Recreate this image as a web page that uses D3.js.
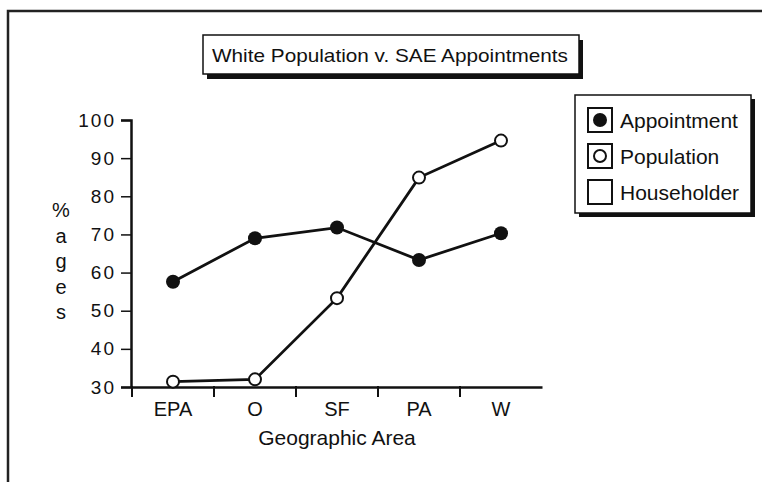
<!DOCTYPE html>
<html>
<head>
<meta charset="utf-8">
<script src="https://cdn.jsdelivr.net/npm/d3@7"></script>
<style>
  body { margin: 0; background: #fff; }
  svg { display: block; font-family: "Liberation Sans", Arial, sans-serif; }
</style>
</head>
<body>
<svg id="canvas" width="762" height="482"></svg>
<script>
// data
let areas = ["EPA", "O", "SF", "PA", "W"]
let appointment = [57.6, 69, 71.8, 63.3, 70.3]
let population = [31.4, 32, 53.3, 84.9, 94.6]
let yTicks = [30, 40, 50, 60, 70, 80, 90, 100]
let legendNames = ["Appointment", "Population", "Householder"]
let yLabelLetters = ["%", "a", "g", "e", "s"]

let canvas = d3.select("#canvas")

let x = d3.scaleBand().domain(areas).range([132, 542])
let y = d3.scaleLinear().domain([30, 100]).range([387, 120])
let cx = (d) => x(d) + x.bandwidth() / 2

// outer frame (left and top only)
canvas.append("path")
    .attr("d", "M8,482 L8,11 L762,11")
    .attr("fill", "none")
    .attr("stroke", "#222")
    .attr("stroke-width", 2.5)

// title box with shadow
canvas.append("rect")
    .attr("x", 207).attr("y", 40).attr("width", 376).attr("height", 39)
    .attr("fill", "#111")
canvas.append("rect")
    .attr("x", 203).attr("y", 35).attr("width", 376).attr("height", 39)
    .attr("fill", "#fff").attr("stroke", "#111").attr("stroke-width", 1.5)
canvas.append("text")
    .attr("x", 390).attr("y", 62)
    .attr("text-anchor", "middle")
    .attr("font-size", 19)
    .attr("fill", "#111")
    .attr("textLength", 356)
    .attr("lengthAdjust", "spacingAndGlyphs")
    .text("White Population v. SAE Appointments")

// y axis
let yAxis = canvas.append("g")
    .attr("transform", "translate(131,0)")
    .call(d3.axisLeft(y).tickValues(yTicks).tickSize(10).tickPadding(5))
yAxis.select(".domain").attr("stroke", "#111").attr("stroke-width", 2.5)
yAxis.selectAll(".tick line").attr("stroke", "#111").attr("stroke-width", 1.5)
yAxis.selectAll(".tick text")
    .attr("font-size", 19)
    .attr("fill", "#111")
    .attr("letter-spacing", "2px")
    .attr("font-family", "Liberation Sans, Arial, sans-serif")

// x axis
let xAxis = canvas.append("g")
    .attr("transform", "translate(0,387)")
    .call(d3.axisBottom(x).tickSize(0).tickPadding(15))
xAxis.select(".domain").attr("stroke", "#111").attr("stroke-width", 2.5)
xAxis.selectAll(".tick text")
    .attr("font-size", 20)
    .attr("fill", "#111")
    .attr("font-family", "Liberation Sans, Arial, sans-serif")

// band boundary ticks
canvas.selectAll(".xtick")
    .data(areas)
    .enter()
    .append("line")
    .attr("class", "xtick")
    .attr("x1", (d) => x(d)).attr("x2", (d) => x(d))
    .attr("y1", 386).attr("y2", 397)
    .attr("stroke", "#111").attr("stroke-width", 2)

canvas.append("text")
    .attr("x", 337).attr("y", 445)
    .attr("text-anchor", "middle")
    .attr("font-size", 21)
    .attr("fill", "#111")
    .text("Geographic Area")

// vertical y label
canvas.selectAll(".ylab")
    .data(yLabelLetters)
    .enter()
    .append("text")
    .attr("class", "ylab")
    .attr("x", 61)
    .attr("y", (d, i) => 217 + i * 25.5)
    .attr("text-anchor", "middle")
    .attr("font-size", 20)
    .attr("fill", "#111")
    .text((d) => d)

// lines
let line = d3.line()
    .x((d, i) => cx(areas[i]))
    .y((d) => y(d))

canvas.append("path")
    .datum(appointment)
    .attr("d", line)
    .attr("fill", "none")
    .attr("stroke", "#111")
    .attr("stroke-width", 2.8)

canvas.append("path")
    .datum(population)
    .attr("d", line)
    .attr("fill", "none")
    .attr("stroke", "#111")
    .attr("stroke-width", 2.8)

canvas.selectAll(".app")
    .data(appointment)
    .enter()
    .append("circle")
    .attr("class", "app")
    .attr("cx", (d, i) => cx(areas[i]))
    .attr("cy", (d) => y(d))
    .attr("r", 7)
    .attr("fill", "#111")

canvas.selectAll(".pop")
    .data(population)
    .enter()
    .append("circle")
    .attr("class", "pop")
    .attr("cx", (d, i) => cx(areas[i]))
    .attr("cy", (d) => y(d))
    .attr("r", 6)
    .attr("fill", "#fff")
    .attr("stroke", "#111")
    .attr("stroke-width", 2)

// legend
canvas.append("rect")
    .attr("x", 579).attr("y", 99).attr("width", 176).attr("height", 118)
    .attr("fill", "#111")
canvas.append("rect")
    .attr("x", 575).attr("y", 95).attr("width", 176).attr("height", 118)
    .attr("fill", "#fff").attr("stroke", "#111").attr("stroke-width", 1.5)

let legendItem = canvas.selectAll(".legend")
    .data(legendNames)
    .enter()
    .append("g")
    .attr("class", "legend")
    .attr("transform", (d, i) => "translate(588," + (108 + i * 36) + ")")

legendItem.append("rect")
    .attr("width", 24).attr("height", 24)
    .attr("fill", "#fff").attr("stroke", "#111").attr("stroke-width", 2)

legendItem.filter((d, i) => i < 2)
    .append("circle")
    .attr("cx", 12).attr("cy", 12)
    .attr("r", (d, i) => i === 0 ? 7 : 6)
    .attr("fill", (d, i) => i === 0 ? "#111" : "#fff")
    .attr("stroke", "#111")
    .attr("stroke-width", (d, i) => i === 0 ? 0 : 2)

legendItem.append("text")
    .attr("x", 32).attr("y", 20)
    .attr("font-size", 21)
    .attr("fill", "#111")
    .text((d) => d)
</script>
</body>
</html>
